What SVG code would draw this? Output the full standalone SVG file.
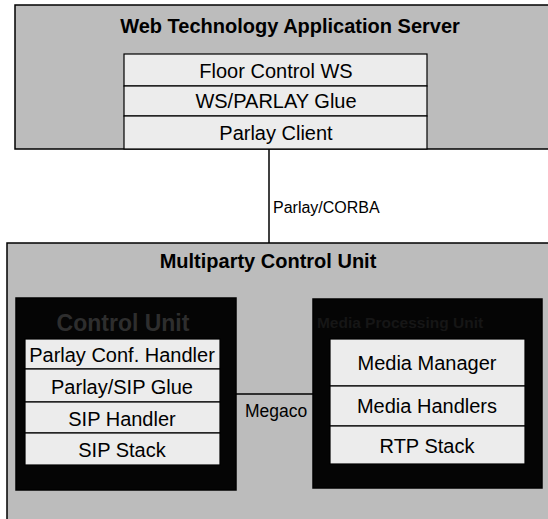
<svg xmlns="http://www.w3.org/2000/svg" width="548" height="519" viewBox="0 0 548 519">
  <style>
    .outer { fill: #bcbcbc; stroke: #000; stroke-width: 1.5; }
    .unit { fill: #050505; stroke: #000; stroke-width: 1.5; }
    .cell { fill: #ececec; stroke: #000; stroke-width: 1.2; }
    .title { font-family: "Liberation Sans", Arial, sans-serif; font-weight: bold; font-size: 20px; fill: #000; text-anchor: middle; }
    .unit-title { font-family: "Liberation Sans", Arial, sans-serif; font-weight: bold; font-size: 23px; fill: #2e2e2e; text-anchor: middle; }
    .lbl { font-family: "Liberation Sans", Arial, sans-serif; font-size: 20px; fill: #000; text-anchor: middle; }
    .conn-lbl { font-family: "Liberation Sans", Arial, sans-serif; font-size: 16px; fill: #000; }
    .wire { stroke: #000; stroke-width: 1.5; fill: none; }
  </style>

  <!-- Application server with its layered stack -->
  <g id="web-server">
    <rect class="outer" x="15" y="5" width="540" height="144"/>
    <text class="title" x="290" y="33">Web Technology Application Server</text>
    <rect class="cell" x="124" y="54" width="303" height="32"/>
    <text class="lbl" x="276" y="78">Floor Control WS</text>
    <rect class="cell" x="124" y="86" width="303" height="30"/>
    <text class="lbl" x="276" y="108">WS/PARLAY Glue</text>
    <rect class="cell" x="124" y="116" width="303" height="33"/>
    <text class="lbl" x="276" y="140">Parlay Client</text>
  </g>

  <!-- Multiparty control unit container -->
  <g id="mcu">
    <rect class="outer" x="7" y="243" width="550" height="290"/>
    <text class="title" x="268" y="268">Multiparty Control Unit</text>
  </g>

  <!-- Control unit stack -->
  <g id="control-unit">
    <rect class="unit" x="16" y="298" width="220" height="192"/>
    <text class="unit-title" x="123" y="331">Control Unit</text>
    <rect class="cell" x="25" y="339" width="195" height="30"/>
    <text class="lbl" x="122" y="362">Parlay Conf. Handler</text>
    <rect class="cell" x="25" y="369" width="195" height="33"/>
    <text class="lbl" x="122" y="394">Parlay/SIP Glue</text>
    <rect class="cell" x="25" y="402" width="195" height="31"/>
    <text class="lbl" x="122" y="426">SIP Handler</text>
    <rect class="cell" x="25" y="433" width="195" height="32"/>
    <text class="lbl" x="122" y="457">SIP Stack</text>
  </g>

  <!-- Media processing stack -->
  <g id="media-unit">
    <rect class="unit" x="313" y="299" width="229" height="189"/>
    <text class="unit-title" x="400" y="328" style="font-size:15.5px;fill:#161616">Media Processing Unit</text>
    <rect class="cell" x="330" y="339" width="195" height="47"/>
    <text class="lbl" x="427" y="370">Media Manager</text>
    <rect class="cell" x="330" y="386" width="195" height="40"/>
    <text class="lbl" x="427" y="413">Media Handlers</text>
    <rect class="cell" x="330" y="426" width="195" height="38"/>
    <text class="lbl" x="427" y="453">RTP Stack</text>
  </g>

  <!-- Connectors -->
  <g id="connectors">
    <line class="wire" x1="269" y1="149" x2="269" y2="243"/>
    <text class="conn-lbl" x="273" y="213">Parlay/CORBA</text>
    <line class="wire" x1="236" y1="394" x2="313" y2="394"/>
    <text class="conn-lbl" x="245" y="417" style="font-size:17.5px">Megaco</text>
  </g>
</svg>
